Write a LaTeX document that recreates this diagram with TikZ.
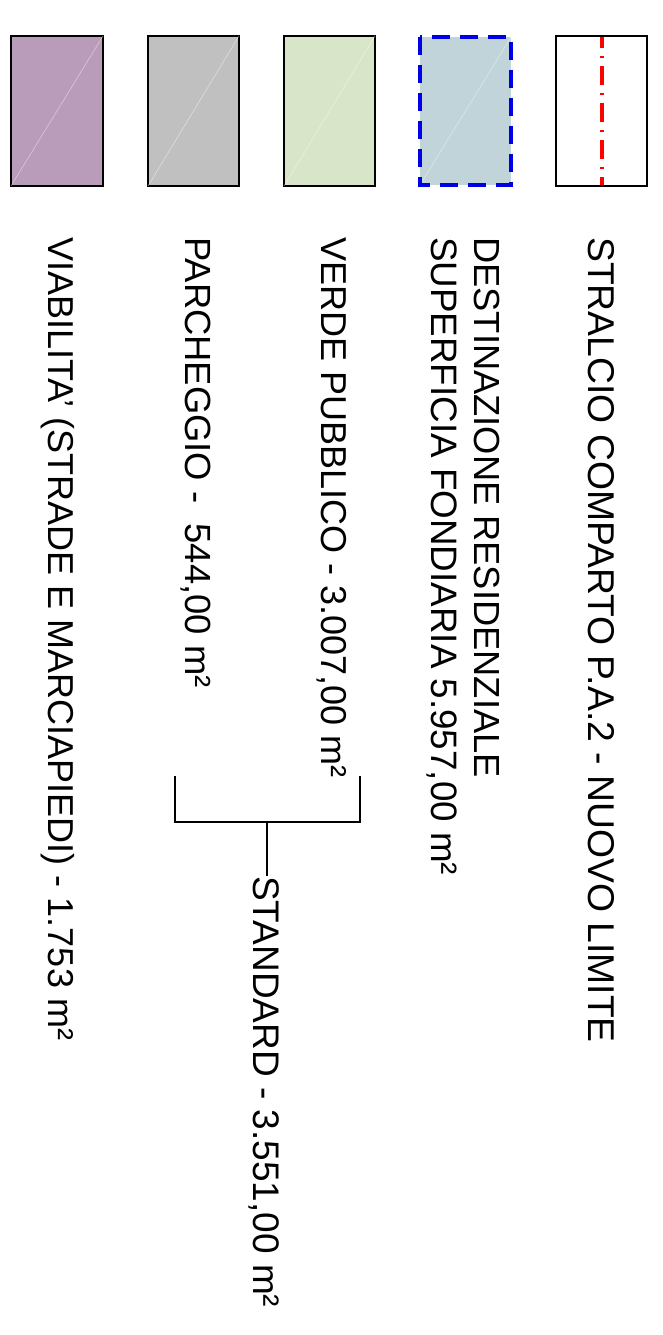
\documentclass[tikz,border=0pt]{standalone}
\usepackage{fontspec}
\setmainfont{Liberation Sans}
\definecolor{viacol}{RGB}{185,156,185}
\definecolor{parkcol}{RGB}{192,192,192}
\definecolor{verdecol}{RGB}{217,229,200}
\definecolor{fondcol}{RGB}{193,212,218}
\definecolor{dashblue}{RGB}{0,0,230}
\definecolor{dashred}{RGB}{255,0,0}
\newcommand{\lblsize}[1]{\fontsize{#1}{40}\selectfont}
\begin{document}
\begin{tikzpicture}[x=1pt,y=-1pt,
  swatch/.style={draw=black,line width=1.3pt},
  diag/.style={white,opacity=0.45,line width=0.6pt},
  lbl/.style={rotate=-90,anchor=base west,inner sep=0pt,font=\lblsize{36}},
  brk/.style={line width=1.6pt,line join=miter}]
\useasboundingbox (0,0) rectangle (662,1335);
% swatches
\filldraw[swatch,fill=viacol] (11,36) rectangle (103,186);
\draw[diag] (11,186) -- (103,36);
\filldraw[swatch,fill=parkcol] (148,36) rectangle (239,186);
\draw[diag] (148,186) -- (239,36);
\filldraw[swatch,fill=verdecol] (284,36) rectangle (375,186);
\draw[diag] (284,186) -- (375,36);
\fill[fondcol] (420,37) rectangle (511,185);
\draw[diag] (420,185) -- (511,37);
\draw[dashblue,line width=3.6pt,dash pattern=on 18pt off 10pt] (420,37) rectangle (511,185);
\draw[swatch,fill=white] (556,36) rectangle (647,186);
\draw[dashred,line width=4pt,dash pattern=on 19pt off 8pt on 2pt off 8pt,dash phase=8pt] (601.5,37) -- (601.5,185);
% labels
\node[lbl] (via) at (48,237) {VIABILITA' (STRADE E MARCIAPIEDI) - 1.753 m²};
\node[lbl,font=\lblsize{36.4}] (park) at (185,237) {PARCHEGGIO -~ 544,00 m²};
\node[lbl] (verde) at (321,237) {VERDE PUBBLICO - 3.007,00 m²};
\node[lbl,font=\lblsize{36.8}] (sup) at (431,237) {SUPERFICIA FONDIARIA 5.957,00 m²};
\node[lbl,font=\lblsize{36.3}] (dest) at (474,237) {DESTINAZIONE RESIDENZIALE};
\node[lbl,font=\lblsize{37.3}] (stral) at (588,237) {STRALCIO COMPARTO P.A.2 - NUOVO LIMITE};
\node[lbl,font=\lblsize{37}] (std) at (253,876) {STANDARD - 3.551,00 m²};
% bracket
\coordinate (bl) at (175,776);
\coordinate (br) at (360,776);
\coordinate (bj) at (267,822);
\draw[brk] (bl) |- (bj) -| (br);
\draw[brk] (bj) -- (bj |- std.west);
\end{tikzpicture}
\end{document}
